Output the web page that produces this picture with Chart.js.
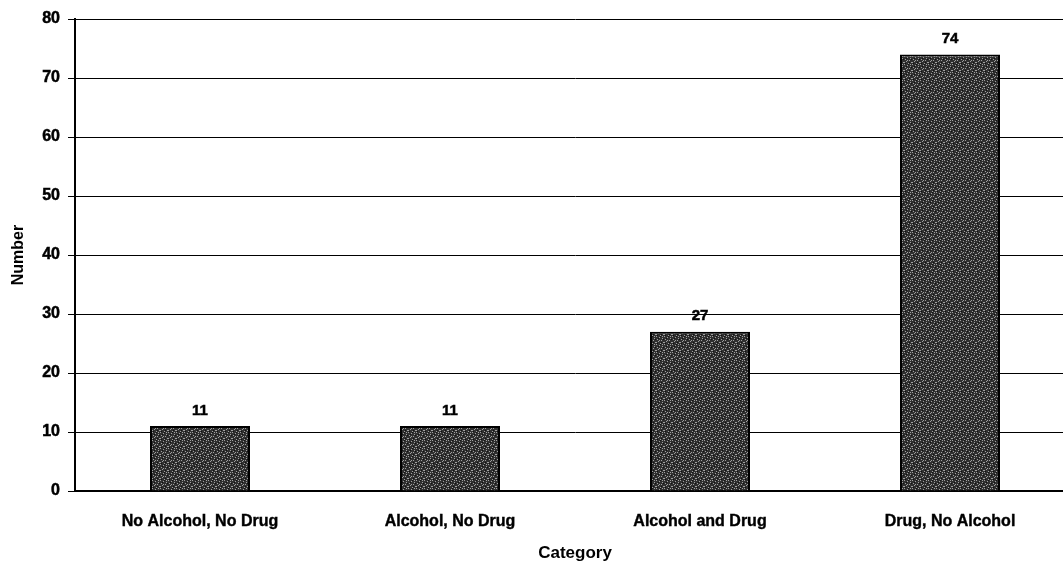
<!DOCTYPE html>
<html>
<head>
<meta charset="utf-8">
<script src="https://cdn.jsdelivr.net/npm/chart.js@4.4.1/dist/chart.umd.min.js"></script>
<style>
  html, body { margin: 0; padding: 0; background: #fff; overflow: hidden; }
  #wrap { width: 1075px; height: 566px; position: relative; }
</style>
</head>
<body>
<div id="wrap"><canvas id="c"></canvas></div>
<script>
// Categories and counts
const categories = ['No Alcohol, No Drug', 'Alcohol, No Drug', 'Alcohol and Drug', 'Drug, No Alcohol'];
const counts = [11, 11, 27, 74];
const yTicks = [0, 10, 20, 30, 40, 50, 60, 70, 80];

const FONT = '"Liberation Sans", Arial, sans-serif';

// Stippled dark-gray fill for the bars
function makeStipple() {
  const p = document.createElement('canvas');
  p.width = 8; p.height = 8;
  const g = p.getContext('2d');
  g.fillStyle = '#303030';
  g.fillRect(0, 0, 8, 8);
  g.fillStyle = '#a0a0a0';
  const dots = [[0,0],[3,1],[6,2],[1,3],[5,4],[2,5],[7,6],[4,7],[0,6],[6,0],[3,4]];
  dots.forEach(([x, y]) => g.fillRect(x, y, 1, 1));
  g.fillStyle = '#111';
  const dark = [[2,2],[5,6],[7,3],[1,7],[4,0]];
  dark.forEach(([x, y]) => g.fillRect(x, y, 1, 1));
  return g.createPattern(p, 'repeat');
}

// Value labels above each bar
const valueLabels = {
  id: 'valueLabels',
  afterDatasetsDraw(chart) {
    const ctx = chart.ctx;
    const meta = chart.getDatasetMeta(0);
    ctx.save();
    ctx.font = 'bold 15px ' + FONT;
    ctx.fillStyle = '#000';
    ctx.strokeStyle = '#000';
    ctx.lineWidth = 0.5;
    ctx.textAlign = 'center';
    ctx.textBaseline = 'bottom';
    meta.data.forEach((bar, i) => {
      const t = String(counts[i]);
      ctx.fillText(t, bar.x, bar.y - 8);
      ctx.strokeText(t, bar.x, bar.y - 8);
    });
    ctx.restore();
  }
};

const ctx = document.getElementById('c').getContext('2d');
new Chart(ctx, {
  type: 'bar',
  data: {
    labels: categories,
    datasets: [{
      data: counts,
      backgroundColor: makeStipple(),
      borderColor: '#000',
      borderWidth: 2,
      categoryPercentage: 0.8,
      barPercentage: 0.5
    }]
  },
  options: {
    responsive: true,
    maintainAspectRatio: false,
    animation: false,
    layout: { padding: { top: 19, left: 0, right: 0, bottom: 0 } },
    plugins: { legend: { display: false }, tooltip: { enabled: false } },
    scales: {
      y: {
        min: 0, max: 80,
        afterBuildTicks(scale) { scale.ticks = yTicks.map(v => ({ value: v })); },
        afterFit(scale) { scale.width = 75; },
        ticks: {
          color: '#000',
          font: { family: FONT, size: 16, weight: 'bold' },
          textStrokeColor: '#000',
          textStrokeWidth: 0.5,
          padding: 8
        },
        grid: {
          color: '#000',
          lineWidth: 1,
          tickLength: 7,
          drawTicks: true
        },
        border: { color: '#000', width: 2 },
        title: {
          display: true,
          text: 'Number',
          color: '#000',
          font: { family: FONT, size: 16, weight: 'bold' },
          padding: { top: 9, bottom: 2 }
        }
      },
      x: {
        afterFit(scale) { scale.height = 75; },
        ticks: {
          color: '#000',
          font: { family: FONT, size: 16, weight: 'bold' },
          textStrokeColor: '#000',
          textStrokeWidth: 0.4,
          padding: 21,
          maxRotation: 0
        },
        grid: { display: false, drawTicks: false },
        border: { color: '#000', width: 2 },
        title: {
          display: true,
          text: 'Category',
          color: '#000',
          font: { family: FONT, size: 17, weight: 'bold' },
          padding: { top: 8, bottom: 2 }
        }
      }
    }
  },
  plugins: [valueLabels]
});
</script>
</body>
</html>
